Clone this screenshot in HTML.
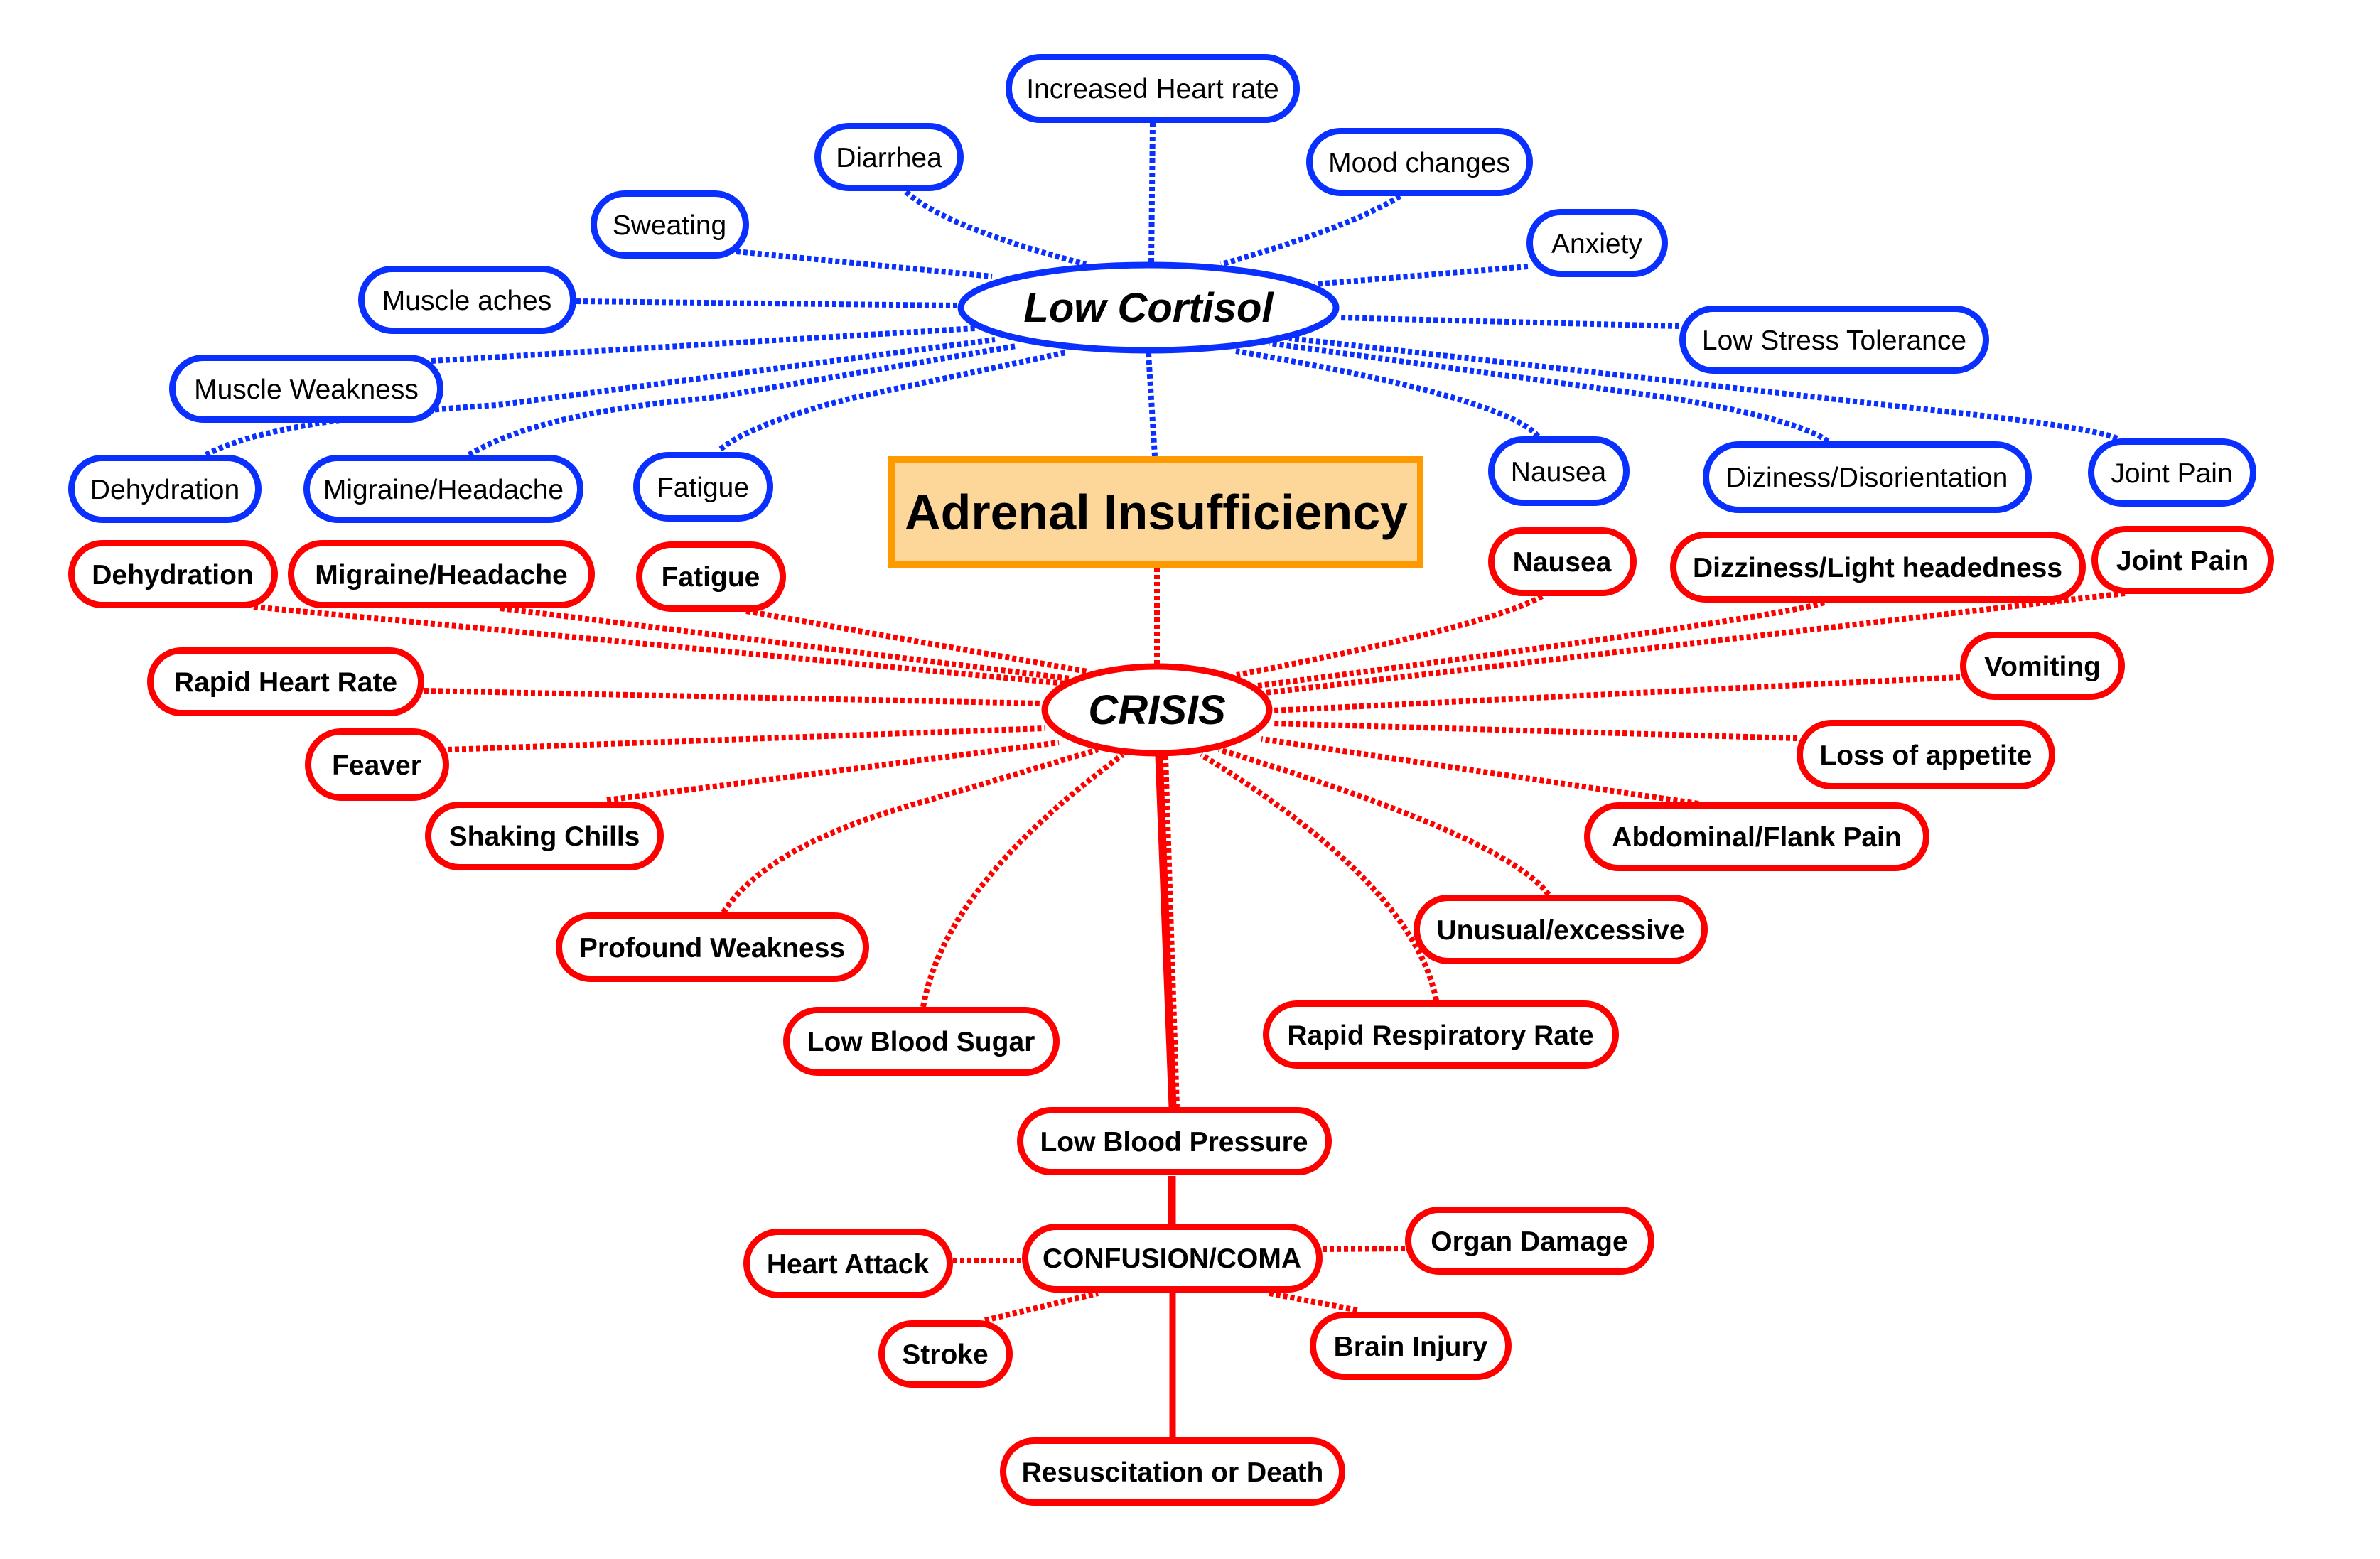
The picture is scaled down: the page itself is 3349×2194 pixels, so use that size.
<!DOCTYPE html>
<html><head><meta charset="utf-8"><style>
html,body{margin:0;padding:0;background:#fff;}
svg{display:block;}
.b{fill:#fff;stroke:#0a30ff;stroke-width:9;}
.r{fill:#fff;stroke:#ff0000;stroke-width:9;}
.tb{font-family:"Liberation Sans",Arial,sans-serif;font-size:39px;fill:#000;text-anchor:middle;}
.tr{font-family:"Liberation Sans",Arial,sans-serif;font-size:39px;font-weight:bold;fill:#000;text-anchor:middle;}
.lb{fill:none;stroke:#0a30ff;stroke-width:8;stroke-dasharray:6 4;}
.lr{fill:none;stroke:#ff0000;stroke-width:8;stroke-dasharray:6 4;}
</style></head><body>
<svg width="3349" height="2194" viewBox="0 0 3349 2194" xmlns="http://www.w3.org/2000/svg">
<!-- blue connectors -->
<path class="lb" d="M1622,173 L1620,372"/>
<path class="lb" d="M1275,270 Q1330,320 1528,372"/>
<path class="lb" d="M1970,276 Q1900,320 1718,372"/>
<path class="lb" d="M2150,375 L1850,400"/>
<path class="lb" d="M2363,459 L1884,447"/>
<path class="lb" d="M1036,354 L1396,389"/>
<path class="lb" d="M811,424 L1348,430"/>
<path class="lb" d="M607,508 L1372,462"/>
<path class="lb" d="M290,640 Q380,590 700,570 L1400,478"/>
<path class="lb" d="M660,640 Q760,580 1000,560 L1430,487"/>
<path class="lb" d="M1014,632 Q1060,595 1200,560 L1500,496"/>
<path class="lb" d="M2164,614 Q2120,560 1739,494"/>
<path class="lb" d="M2572,621 Q2530,590 2350,560 L1786,483"/>
<path class="lb" d="M2979,617 Q2940,600 2700,575 L1814,476"/>
<path class="lb" d="M1616,497 L1625,642"/>
<!-- red connectors -->
<path class="lr" d="M1628,799 L1628,934"/>
<path class="lr" d="M357,854 L1500,962"/>
<path class="lr" d="M704,856 L1506,955"/>
<path class="lr" d="M1050,860 L1530,945"/>
<path class="lr" d="M597,972 L1466,990"/>
<path class="lr" d="M630,1055 L1470,1025"/>
<path class="lr" d="M854,1126 L1490,1045"/>
<path class="lr" d="M1018,1284 Q1080,1188 1300,1128 L1545,1055"/>
<path class="lr" d="M1299,1417 Q1330,1245 1580,1062"/>
<path class="lr" d="M2170,839 Q2100,880 1740,950"/>
<path class="lr" d="M2567,848 Q2500,870 1770,965"/>
<path class="lr" d="M2990,835 L1780,975"/>
<path class="lr" d="M2758,953 L1791,1000"/>
<path class="lr" d="M2529,1039 L1790,1018"/>
<path class="lr" d="M2390,1131 L1775,1040"/>
<path class="lr" d="M2179,1259 Q2120,1178 1715,1055"/>
<path class="lr" d="M2021,1408 Q1990,1245 1690,1062"/>
<path class="lr" d="M1640,1064 L1656,1558"/>
<path d="M1631,1064 L1650,1558" stroke="#ff0000" stroke-width="11" fill="none"/>
<path d="M1649,1655 L1649,1722" stroke="#ff0000" stroke-width="11" fill="none"/>
<path d="M1650,1820 L1650,2023" stroke="#ff0000" stroke-width="9" fill="none"/>
<path class="lr" d="M1341,1774 L1438,1774"/>
<path class="lr" d="M1861,1758 L1977,1757"/>
<path class="lr" d="M1386,1858 L1545,1820"/>
<path class="lr" d="M1786,1820 L1911,1844"/>

<!-- central ellipses and box -->
<ellipse cx="1616" cy="433" rx="264" ry="60" fill="#fff" stroke="#0a30ff" stroke-width="9"/>
<text x="1616" y="453" font-family="Liberation Sans,Arial,sans-serif" font-size="58" font-weight="bold" font-style="italic" text-anchor="middle">Low Cortisol</text>
<rect x="1254.5" y="646.5" width="744" height="148" fill="#fdd69a" stroke="#ff9900" stroke-width="9"/>
<text x="1627" y="745" font-family="Liberation Sans,Arial,sans-serif" font-size="70" font-weight="bold" text-anchor="middle">Adrenal Insufficiency</text>
<ellipse cx="1628" cy="999" rx="158" ry="61" fill="#fff" stroke="#ff0000" stroke-width="9"/>
<text x="1628" y="1019" font-family="Liberation Sans,Arial,sans-serif" font-size="58" font-weight="bold" font-style="italic" text-anchor="middle">CRISIS</text>

<!-- blue nodes -->
<g>
<rect class="b" x="1419.5" y="80.5" width="405" height="88" rx="44"/><text class="tb" x="1622" y="138">Increased Heart rate</text>
<rect class="b" x="1150.5" y="177.5" width="201" height="87" rx="43.5"/><text class="tb" x="1251" y="235">Diarrhea</text>
<rect class="b" x="1842.5" y="184.5" width="310" height="87" rx="43.5"/><text class="tb" x="1997" y="242">Mood changes</text>
<rect class="b" x="2152.5" y="298.5" width="190" height="87" rx="43.5"/><text class="tb" x="2247" y="356">Anxiety</text>
<rect class="b" x="835.5" y="272.5" width="214" height="87" rx="43.5"/><text class="tb" x="942" y="330">Sweating</text>
<rect class="b" x="508.5" y="378.5" width="298" height="87" rx="43.5"/><text class="tb" x="657" y="436">Muscle aches</text>
<rect class="b" x="242.5" y="503.5" width="377" height="87" rx="43.5"/><text class="tb" x="431" y="561">Muscle Weakness</text>
<rect class="b" x="2367.5" y="434.5" width="427" height="87" rx="43.5"/><text class="tb" x="2581" y="492">Low Stress Tolerance</text>
<rect class="b" x="100.5" y="644.5" width="263" height="87" rx="43.5"/><text class="tb" x="232" y="702">Dehydration</text>
<rect class="b" x="431.5" y="644.5" width="385" height="87" rx="43.5"/><text class="tb" x="624" y="702">Migraine/Headache</text>
<rect class="b" x="895.5" y="640.5" width="188" height="89" rx="44.5"/><text class="tb" x="989" y="699">Fatigue</text>
<rect class="b" x="2098.5" y="618.5" width="190" height="89" rx="44.5"/><text class="tb" x="2193" y="677">Nausea</text>
<rect class="b" x="2400.5" y="625.5" width="454" height="92" rx="46"/><text class="tb" x="2627" y="685">Diziness/Disorientation</text>
<rect class="b" x="2942.5" y="621.5" width="228" height="87" rx="43.5"/><text class="tb" x="3056" y="679">Joint Pain</text>
</g>
<!-- red nodes -->
<g>
<rect class="r" x="100.5" y="764.5" width="286" height="87" rx="43.5"/><text class="tr" x="243" y="822">Dehydration</text>
<rect class="r" x="409.5" y="764.5" width="423" height="87" rx="43.5"/><text class="tr" x="621" y="822">Migraine/Headache</text>
<rect class="r" x="899.5" y="766.5" width="202" height="90" rx="45"/><text class="tr" x="1000" y="825">Fatigue</text>
<rect class="r" x="211.5" y="915.5" width="381" height="88" rx="44"/><text class="tr" x="402" y="973">Rapid Heart Rate</text>
<rect class="r" x="433.5" y="1029.5" width="194" height="93" rx="46.5"/><text class="tr" x="530" y="1090">Feaver</text>
<rect class="r" x="602.5" y="1132.5" width="327" height="88" rx="44"/><text class="tr" x="766" y="1190">Shaking Chills</text>
<rect class="r" x="786.5" y="1288.5" width="432" height="89" rx="44.5"/><text class="tr" x="1002" y="1347">Profound Weakness</text>
<rect class="r" x="1106.5" y="1421.5" width="380" height="88" rx="44"/><text class="tr" x="1296" y="1479">Low Blood Sugar</text>
<rect class="r" x="2098.5" y="746.5" width="200" height="88" rx="44"/><text class="tr" x="2198" y="804">Nausea</text>
<rect class="r" x="2354.5" y="752.5" width="576" height="91" rx="45.5"/><text class="tr" x="2642" y="812">Dizziness/Light headedness</text>
<rect class="r" x="2947.5" y="744.5" width="248" height="87" rx="43.5"/><text class="tr" x="3071" y="802">Joint Pain</text>
<rect class="r" x="2762.5" y="893.5" width="223" height="87" rx="43.5"/><text class="tr" x="2874" y="951">Vomiting</text>
<rect class="r" x="2532.5" y="1017.5" width="355" height="89" rx="44.5"/><text class="tr" x="2710" y="1076">Loss of appetite</text>
<rect class="r" x="2233.5" y="1133.5" width="477" height="88" rx="44"/><text class="tr" x="2472" y="1191">Abdominal/Flank Pain</text>
<rect class="r" x="1993.5" y="1263.5" width="405" height="89" rx="44.5"/><text class="tr" x="2196" y="1322">Unusual/excessive</text>
<rect class="r" x="1781.5" y="1412.5" width="492" height="87" rx="43.5"/><text class="tr" x="2027" y="1470">Rapid Respiratory Rate</text>
<rect class="r" x="1435.5" y="1562.5" width="434" height="87" rx="43.5"/><text class="tr" x="1652" y="1620">Low Blood Pressure</text>
<rect class="r" x="1442.5" y="1726.5" width="414" height="88" rx="44"/><text class="tr" x="1649" y="1784">CONFUSION/COMA</text>
<rect class="r" x="1050.5" y="1733.5" width="286" height="89" rx="44.5"/><text class="tr" x="1193" y="1792">Heart Attack</text>
<rect class="r" x="1981.5" y="1702.5" width="342" height="87" rx="43.5"/><text class="tr" x="2152" y="1760">Organ Damage</text>
<rect class="r" x="1240.5" y="1862.5" width="180" height="86" rx="43"/><text class="tr" x="1330" y="1919">Stroke</text>
<rect class="r" x="1847.5" y="1850.5" width="275" height="87" rx="43.5"/><text class="tr" x="1985" y="1908">Brain Injury</text>
<rect class="r" x="1411.5" y="2027.5" width="477" height="87" rx="43.5"/><text class="tr" x="1650" y="2085">Resuscitation or Death</text>
</g>
</svg>
</body></html>
